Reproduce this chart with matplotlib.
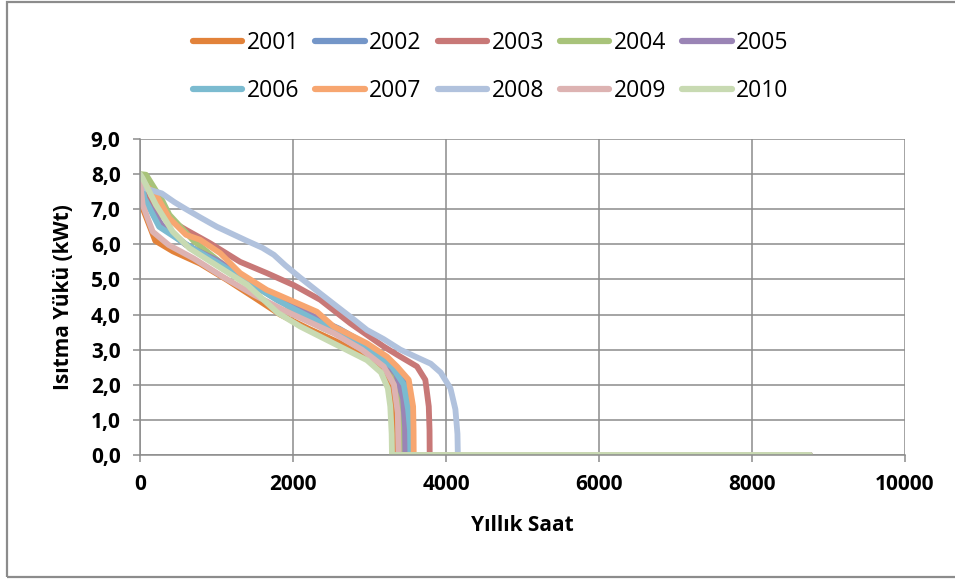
import matplotlib.pyplot as plt
from matplotlib.lines import Line2D
from matplotlib.patches import Rectangle
from matplotlib.ticker import FuncFormatter

plt.rcParams["font.family"] = ["Open Sans", "DejaVu Sans"]

years = ["2001", "2002", "2003", "2004", "2005",
         "2006", "2007", "2008", "2009", "2010"]
colors = ["#E2823A", "#7496C8", "#C87877", "#A8C37A", "#9A84B5",
          "#7BBBD0", "#F7A670", "#B1C2DD", "#DDB3B2", "#C8DAB2"]

# annual load duration curves: hour of year -> heating load (kWt)
h2001 = [0, 40, 200, 430, 785, 1134, 1483, 1832, 2200, 2600, 3000, 3200, 3300, 3340, 3355, 3360, 8760]
v2001 = [7.9, 7.0, 6.1, 5.8, 5.45, 4.99, 4.5, 4.0, 3.6, 3.2, 2.7, 2.3, 1.8, 1.2, 0.5, 0, 0]
h2002 = [0, 60, 250, 600, 1000, 1400, 1800, 2200, 2600, 3000, 3300, 3450, 3510, 3522, 3526, 8760]
v2002 = [7.9, 7.4, 6.6, 6.0, 5.5, 5.0, 4.45, 4.0, 3.6, 3.1, 2.6, 2.1, 1.4, 0.7, 0, 0]
h2003 = [0, 80, 300, 611, 916, 1309, 1658, 2007, 2356, 2749, 3185, 3403, 3621, 3730, 3775, 3785, 3787, 8760]
v2003 = [7.9, 7.3, 6.8, 6.4, 6.03, 5.5, 5.18, 4.84, 4.42, 3.75, 3.09, 2.8, 2.52, 2.14, 1.38, 0.7, 0, 0]
h2004 = [0, 79, 297, 384, 700, 1100, 1500, 1900, 2094, 2400, 2749, 3100, 3300, 3390, 3418, 3425, 8760]
v2004 = [8.0, 7.98, 7.22, 6.84, 6.1, 5.4, 4.8, 4.3, 3.94, 3.6, 3.28, 2.8, 2.3, 1.6, 0.8, 0, 0]
h2005 = [0, 60, 300, 602, 1000, 1400, 1800, 2200, 2661, 3000, 3185, 3350, 3440, 3465, 3469, 8760]
v2005 = [7.9, 7.3, 6.5, 5.98, 5.55, 5.0, 4.5, 4.05, 3.37, 2.95, 2.71, 2.3, 1.6, 0.8, 0, 0]
h2006 = [0, 60, 250, 600, 1000, 1400, 1800, 2200, 2600, 3000, 3300, 3450, 3505, 3530, 3535, 8760]
v2006 = [7.9, 7.3, 6.5, 6.0, 5.5, 4.95, 4.4, 3.95, 3.5, 3.0, 2.5, 2.0, 1.3, 0.7, 0, 0]
h2007 = [0, 60, 209, 384, 602, 785, 1047, 1309, 1658, 2007, 2312, 2530, 2967, 3229, 3360, 3513, 3570, 3576, 3578, 8760]
v2007 = [7.9, 7.7, 7.41, 6.74, 6.27, 6.13, 5.75, 5.18, 4.70, 4.37, 4.08, 3.66, 3.18, 2.8, 2.52, 2.14, 1.38, 0.7, 0, 0]
h2008 = [0, 60, 130, 284, 450, 602, 800, 1004, 1200, 1396, 1600, 1750, 1900, 2094, 2356, 2574, 2800, 2967,
         3185, 3403, 3600, 3800, 3930, 4058, 4123, 4150, 4155, 8760]
v2008 = [7.9, 7.6, 7.55, 7.45, 7.2, 7.0, 6.75, 6.5, 6.3, 6.1, 5.9, 5.7, 5.4, 5.05, 4.6, 4.23, 3.85, 3.56,
         3.3, 3.0, 2.8, 2.6, 2.35, 1.9, 1.3, 0.6, 0, 0]
h2009 = [0, 35, 166, 375, 700, 1100, 1500, 1900, 2200, 2530, 2900, 3185, 3320, 3370, 3381, 8760]
v2009 = [7.8, 7.12, 6.36, 5.98, 5.6, 5.05, 4.55, 4.1, 3.8, 3.47, 3.0, 2.52, 2.0, 1.2, 0, 0]
h2010 = [0, 35, 209, 428, 645, 1000, 1400, 1800, 2094, 2530, 2967, 3150, 3240, 3272, 3290, 3294, 8760]
v2010 = [8.0, 7.88, 7.12, 6.36, 5.89, 5.4, 4.85, 4.05, 3.66, 3.18, 2.7, 2.35, 1.9, 1.38, 0.6, 0, 0]

hours = [h2001, h2002, h2003, h2004, h2005, h2006, h2007, h2008, h2009, h2010]
loads = [v2001, v2002, v2003, v2004, v2005, v2006, v2007, v2008, v2009, v2010]

fig = plt.figure(figsize=(9.55, 5.79), dpi=100)
ax = fig.add_axes([0.1466, 0.2142, 0.801, 0.5458])

for h, v, c, y in zip(hours, loads, colors, years):
    ax.plot(h, v, color=c, linewidth=4.2, solid_capstyle="round",
            solid_joinstyle="round", label=y)

grid_c = "#8C8C8C"
ax.set_xlim(0, 10000)
ax.set_ylim(0, 9)
ax.set_xticks(range(0, 10001, 2000))
ax.set_yticks(range(0, 10))
ax.yaxis.set_major_formatter(FuncFormatter(lambda v, _: f"{v:.1f}".replace(".", ",")))
ax.grid(color=grid_c, linewidth=1.1)
ax.set_axisbelow(True)
for s in ["top", "right"]:
    ax.spines[s].set_visible(False)
for s in ["left", "bottom"]:
    ax.spines[s].set_color(grid_c)
    ax.spines[s].set_linewidth(1.1)
ax.tick_params(length=5, width=1.1, color=grid_c, labelsize=15, pad=9)
for lab in ax.get_xticklabels() + ax.get_yticklabels():
    lab.set_fontweight("bold")

ax.set_xlabel("Yıllık Saat", fontsize=15, fontweight="bold", labelpad=14)
ax.set_ylabel("Isıtma Yükü (kWt)", fontsize=15, fontweight="bold", labelpad=12)

# legend filled row by row like the original
order = [0, 5, 1, 6, 2, 7, 3, 8, 4, 9]
handles = [Line2D([], [], color=colors[i], linewidth=4.5, solid_capstyle="round") for i in order]
fig.legend(handles, [years[i] for i in order], loc="center", bbox_to_anchor=(0.514, 0.885), ncol=5,
           frameon=False, fontsize=16.5, handlelength=2.15, handletextpad=0.2,
           columnspacing=0.7, labelspacing=1.05)

# chart-area border
fig.patches.append(Rectangle((7 / 955, 2 / 579), 1.2, 575 / 579, transform=fig.transFigure,
                             fill=False, edgecolor="#8C8C8C", linewidth=1.6))

fig.savefig("out.png", dpi=100)
